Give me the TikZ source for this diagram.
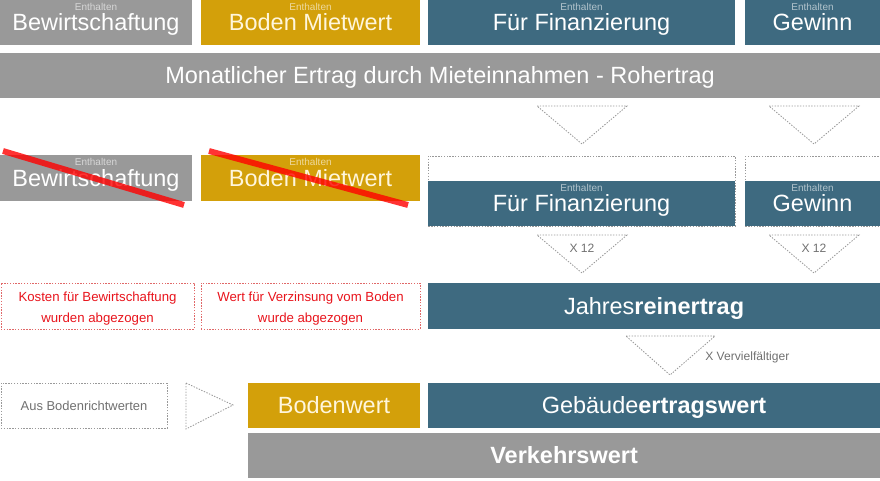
\documentclass[tikz,border=0pt]{standalone}
\usepackage{fontspec}
\setmainfont{Liberation Sans}
\usetikzlibrary{positioning}

\definecolor{grau}{HTML}{999999}
\definecolor{gold}{HTML}{D3A00A}
\definecolor{petrol}{HTML}{3E6A80}
\definecolor{rotschrift}{HTML}{E8141C}
\definecolor{randrot}{HTML}{E06868}
\definecolor{schrift}{HTML}{707070}
\definecolor{creme}{HTML}{FFF6DC}

\tikzset{
	kasten/.style={anchor=north west, inner sep=0pt, outer sep=0pt, text=white,
		font=\fontsize{16.7}{20}\selectfont, text height=12pt, text depth=0pt},
	enth/.style={anchor=north, inner sep=2pt, text=white, text opacity=0.6,
		font=\fontsize{7.1}{8}\selectfont, text height=5.3pt, text depth=1.5pt},
	mitenth/.style={label={[enth]north:Enthalten}},
	punktrand/.style={draw=grau, line width=0.6pt, dash pattern=on 1pt off 1pt},
	rotrand/.style={anchor=north west, inner sep=0pt, outer sep=0pt, draw=randrot,
		line width=0.6pt, dash pattern=on 1pt off 1pt, text=rotschrift, align=center,
		font=\fontsize{9.4}{14.9}\selectfont, text height=22.9pt, text depth=0pt},
	hinweis/.style={text=schrift, font=\fontsize{8.6}{10}\selectfont, inner sep=0pt},
	strich/.style={red, opacity=0.8, line width=4.2pt}
}

\begin{document}
\begin{tikzpicture}[x=0.025cm,y=-0.025cm]
	\useasboundingbox (0,0) rectangle (880,480);

	% obere Reihe
	\node[kasten,mitenth,fill=grau,minimum width=4.8cm,minimum height=1.125cm] (bew1) at (0,0) {Bewirtschaftung};
	\node[kasten,mitenth,fill=gold,text=creme,minimum width=5.475cm,minimum height=1.125cm] (bod1) at (201,0) {Boden Mietwert};
	\node[kasten,mitenth,fill=petrol,minimum width=7.675cm,minimum height=1.125cm] (fin1) at (428,0) {Für Finanzierung};
	\node[kasten,mitenth,fill=petrol,minimum width=3.375cm,minimum height=1.125cm] (gew1) at (745,0) {Gewinn};
	\node[kasten,fill=grau,minimum width=22cm,minimum height=1.125cm] (roh) at (0,53) {Monatlicher Ertrag durch Mieteinnahmen - Rohertrag};

	\draw[punktrand] (537,106) -- (627,106) -- (582,144) -- cycle;
	\draw[punktrand] (769,106) -- (859,106) -- (814,144) -- cycle;

	% abgezogen
	\node[kasten,mitenth,fill=grau,minimum width=4.8cm,minimum height=1.15cm] (bew2) at (0,155) {Bewirtschaftung};
	\node[kasten,mitenth,fill=gold,text=creme,minimum width=5.475cm,minimum height=1.15cm] (bod2) at (201,155) {Boden Mietwert};
	\draw[strich] (3,151) -- (184,205);
	\draw[strich] (209,151) -- (408,205);

	\draw[punktrand] (428,156) rectangle (735,226);
	\draw[punktrand] (745,156) rectangle (881,226);
	\node[kasten,mitenth,fill=petrol,minimum width=7.675cm,minimum height=1.125cm] (fin2) at (428,181) {Für Finanzierung};
	\node[kasten,mitenth,fill=petrol,minimum width=3.375cm,minimum height=1.125cm] (gew2) at (745,181) {Gewinn};

	\draw[punktrand] (537,235) -- (627,235) -- (582,273) -- cycle;
	\draw[punktrand] (769,235) -- (859,235) -- (814,273) -- cycle;
	\node[hinweis] (mal1) at (582,248) {X 12};
	\node[hinweis] (mal2) at (814,248) {X 12};

	% Jahresreinertrag
	\node[rotrand,minimum width=4.825cm,minimum height=1.15cm] (kos) at (1,283) {Kosten für Bewirtschaftung\\wurden abgezogen};
	\node[rotrand,minimum width=5.475cm,minimum height=1.15cm] (wert) at (201,283) {Wert für Verzinsung vom Boden\\wurde abgezogen};
	\node[kasten,fill=petrol,minimum width=11.3cm,minimum height=1.15cm] (jahr) at (428,283) {Jahres\textbf{reinertrag}};

	\draw[punktrand] (626,336) -- (715,336) -- (670,375) -- cycle;
	\node[hinweis,anchor=west] (verv) at (705,357) {X Vervielfältiger};

	% Werte
	\node[kasten,punktrand,text=schrift,font=\fontsize{9.2}{10}\selectfont,text height=6.6pt,minimum width=4.15cm,minimum height=1.125cm] (aus) at (1,383) {Aus Bodenrichtwerten};
	\draw[punktrand] (186,383) -- (233,405) -- (186,429) -- cycle;
	\node[kasten,fill=gold,text=creme,minimum width=4.3cm,minimum height=1.125cm] (bw) at (248,383) {Bodenwert};
	\node[kasten,fill=petrol,minimum width=11.3cm,minimum height=1.125cm] (geb) at (428,383) {Gebäude\textbf{ertragswert}};
	\node[kasten,fill=grau,minimum width=15.8cm,minimum height=1.125cm] (vk) at (248,433) {\textbf{Verkehrswert}};
\end{tikzpicture}
\end{document}
